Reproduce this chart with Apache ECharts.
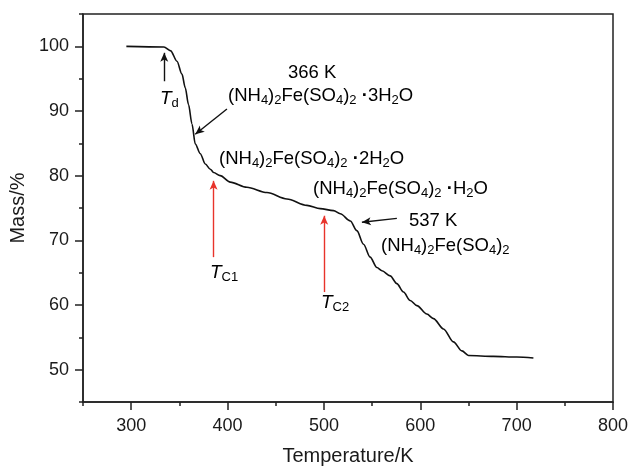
<!DOCTYPE html>
<html>
<head>
<meta charset="utf-8">
<title>TG curve</title>
<script src="https://cdn.jsdelivr.net/npm/echarts@6/dist/echarts.min.js"></script>
<style>
  html, body { margin: 0; padding: 0; background: #fff; }
  #chart { width: 630px; height: 467px; }
</style>
</head>
<body>
<div id="chart"></div>
<script>
// temperature (K) and mass (%)
const temperature = [295, 334, 341, 347.5, 352.7, 356.1, 359.5, 363.1, 366.5, 371.7, 376.9, 382.1, 385.5,
  392.4, 402.8, 420.1, 440.9, 461.6, 482.4, 496.2, 510, 517, 527.4, 534.2, 541.1, 548, 555, 560.2,
  568.8, 575.7, 582.6, 589.5, 596.5, 606.8, 613.7, 624.1, 634.4, 643.2, 650, 675.9, 700.2, 717.4]
const mass = [100, 99.9, 99.3, 97.7, 95.7, 93.6, 91.0, 88.0, 84.9, 83.4, 81.8, 81.0, 80.5,
  80.0, 79.0, 78.2, 77.4, 76.4, 75.4, 74.9, 74.6, 74.1, 73.0, 71.5, 69.4, 67.4, 65.8, 65.3,
  64.5, 63.3, 62.0, 60.7, 59.9, 58.6, 57.9, 56.3, 54.3, 52.9, 52.2, 52.05, 51.95, 51.8]

const xTicks = [300, 400, 500, 600, 700, 800]
const xMinorTicks = [250, 350, 450, 550, 650, 750]
const yTicks = [50, 60, 70, 80, 90, 100]
const yMinorTicks = [45, 55, 65, 75, 85, 95, 105]

// arrows: [from, to] in data units, colour
const arrows = [
  [[334.3, 94.6], [334.3, 99.0], '#111'],
  [[399.4, 90.3], [366.5, 86.4], '#111'],
  [[575.7, 73.4], [539.4, 72.8], '#111'],
  [[385.5, 67.4], [385.5, 79.2], '#e8332b'],
  [[500.3, 62.0], [500.3, 73.8], '#e8332b']
]

const chart = echarts.init(document.getElementById('chart'))

const font = 'Liberation Sans, Arial, Helvetica, sans-serif'
const axisColor = '#222'
const ink = '#1a1a1a'
const red = '#e8332b'

const rich = {
  n: { fontSize: 18.5, fontFamily: font, color: ink, lineHeight: 23, verticalAlign: 'middle' },
  s: { fontSize: 13, fontFamily: font, color: ink, lineHeight: 13, verticalAlign: 'bottom' },
  dot: { fontSize: 18.5, fontFamily: font, color: ink, fontWeight: 'bold', lineHeight: 23, verticalAlign: 'middle' },
  t: { fontSize: 19, fontFamily: font, color: red, fontStyle: 'italic', lineHeight: 23, verticalAlign: 'middle' },
  ts: { fontSize: 13, fontFamily: font, color: red, lineHeight: 13, verticalAlign: 'bottom' },
  tb: { fontSize: 19, fontFamily: font, color: ink, fontStyle: 'italic', lineHeight: 23, verticalAlign: 'middle' },
  tbs: { fontSize: 13, fontFamily: font, color: ink, lineHeight: 13, verticalAlign: 'bottom' }
}

const salt = '{n|(NH}{s|4}{n|)}{s|2}{n|Fe(SO}{s|4}{n|)}{s|2}'

function label(text, x, y) {
  return {
    type: 'text',
    left: x,
    top: y,
    style: { text: text, rich: rich, font: '18px ' + font }
  }
}

chart.setOption({
  animation: false,
  grid: {
    left: 83,
    right: 17,
    top: 14,
    bottom: 65,
    outerBoundsMode: 'none',
    show: true,
    borderColor: axisColor,
    borderWidth: 1.5
  },
  xAxis: [{
    type: 'value',
    min: 250,
    max: 800,
    name: 'Temperature/K',
    nameLocation: 'middle',
    nameGap: 44,
    nameTextStyle: { fontSize: 20, fontFamily: font, color: ink },
    axisLine: { lineStyle: { color: axisColor, width: 1.5 } },
    axisTick: { customValues: xTicks, length: 8, lineStyle: { color: axisColor, width: 1.5 } },
    axisLabel: { customValues: xTicks, margin: 15, fontSize: 18, fontFamily: font, color: ink },
    splitLine: { show: false }
  }, {
    type: 'value',
    position: 'bottom',
    min: 250,
    max: 800,
    axisLine: { show: false },
    axisTick: { customValues: xMinorTicks, length: 4, lineStyle: { color: axisColor, width: 1.5 } },
    axisLabel: { show: false },
    splitLine: { show: false }
  }],
  yAxis: [{
    type: 'value',
    min: 45,
    max: 105,
    name: 'Mass/%',
    nameLocation: 'middle',
    nameGap: 52,
    nameTextStyle: { fontSize: 20, fontFamily: font, color: ink },
    axisLine: { show: true, lineStyle: { color: axisColor, width: 1.5 } },
    axisTick: { show: true, customValues: yTicks, length: 8, lineStyle: { color: axisColor, width: 1.5 } },
    axisLabel: { customValues: yTicks, margin: 14, fontSize: 18, fontFamily: font, color: ink },
    splitLine: { show: false }
  }, {
    type: 'value',
    position: 'left',
    min: 45,
    max: 105,
    axisLine: { show: false },
    axisTick: { show: true, customValues: yMinorTicks, length: 4, lineStyle: { color: axisColor, width: 1.5 } },
    axisLabel: { show: false },
    splitLine: { show: false }
  }],
  series: [{
    type: 'line',
    data: temperature.map((t, i) => [t, mass[i]]),
    showSymbol: false,
    smooth: 0.3,
    smoothMonotone: 'x',
    lineStyle: { color: '#111', width: 1.6 },
    markLine: {
      silent: true,
      animation: false,
      label: { show: false },
      symbol: ['none', 'arrow'],
      symbolSize: [6, 9],
      data: arrows.map(a => [
        { coord: a[0], lineStyle: { color: a[2], width: 1.4, type: 'solid' }, itemStyle: { color: a[2] } },
        { coord: a[1] }
      ])
    }
  }],
  graphic: [
    label('{n|366 K}', 288, 63),
    label(salt + '{n| }{dot|·}{n|3H}{s|2}{n|O}', 228, 86),
    label(salt + '{n| }{dot|·}{n|2H}{s|2}{n|O}', 219, 149),
    label(salt + '{n| }{dot|·}{n|H}{s|2}{n|O}', 313, 179),
    label('{n|537 K}', 409, 211),
    label(salt, 381, 236),
    label('{tb|T}{tbs|d}', 160, 89),
    label('{t|T}{ts|C1}', 210, 263),
    label('{t|T}{ts|C2}', 321, 293)
  ]
})
</script>
</body>
</html>
